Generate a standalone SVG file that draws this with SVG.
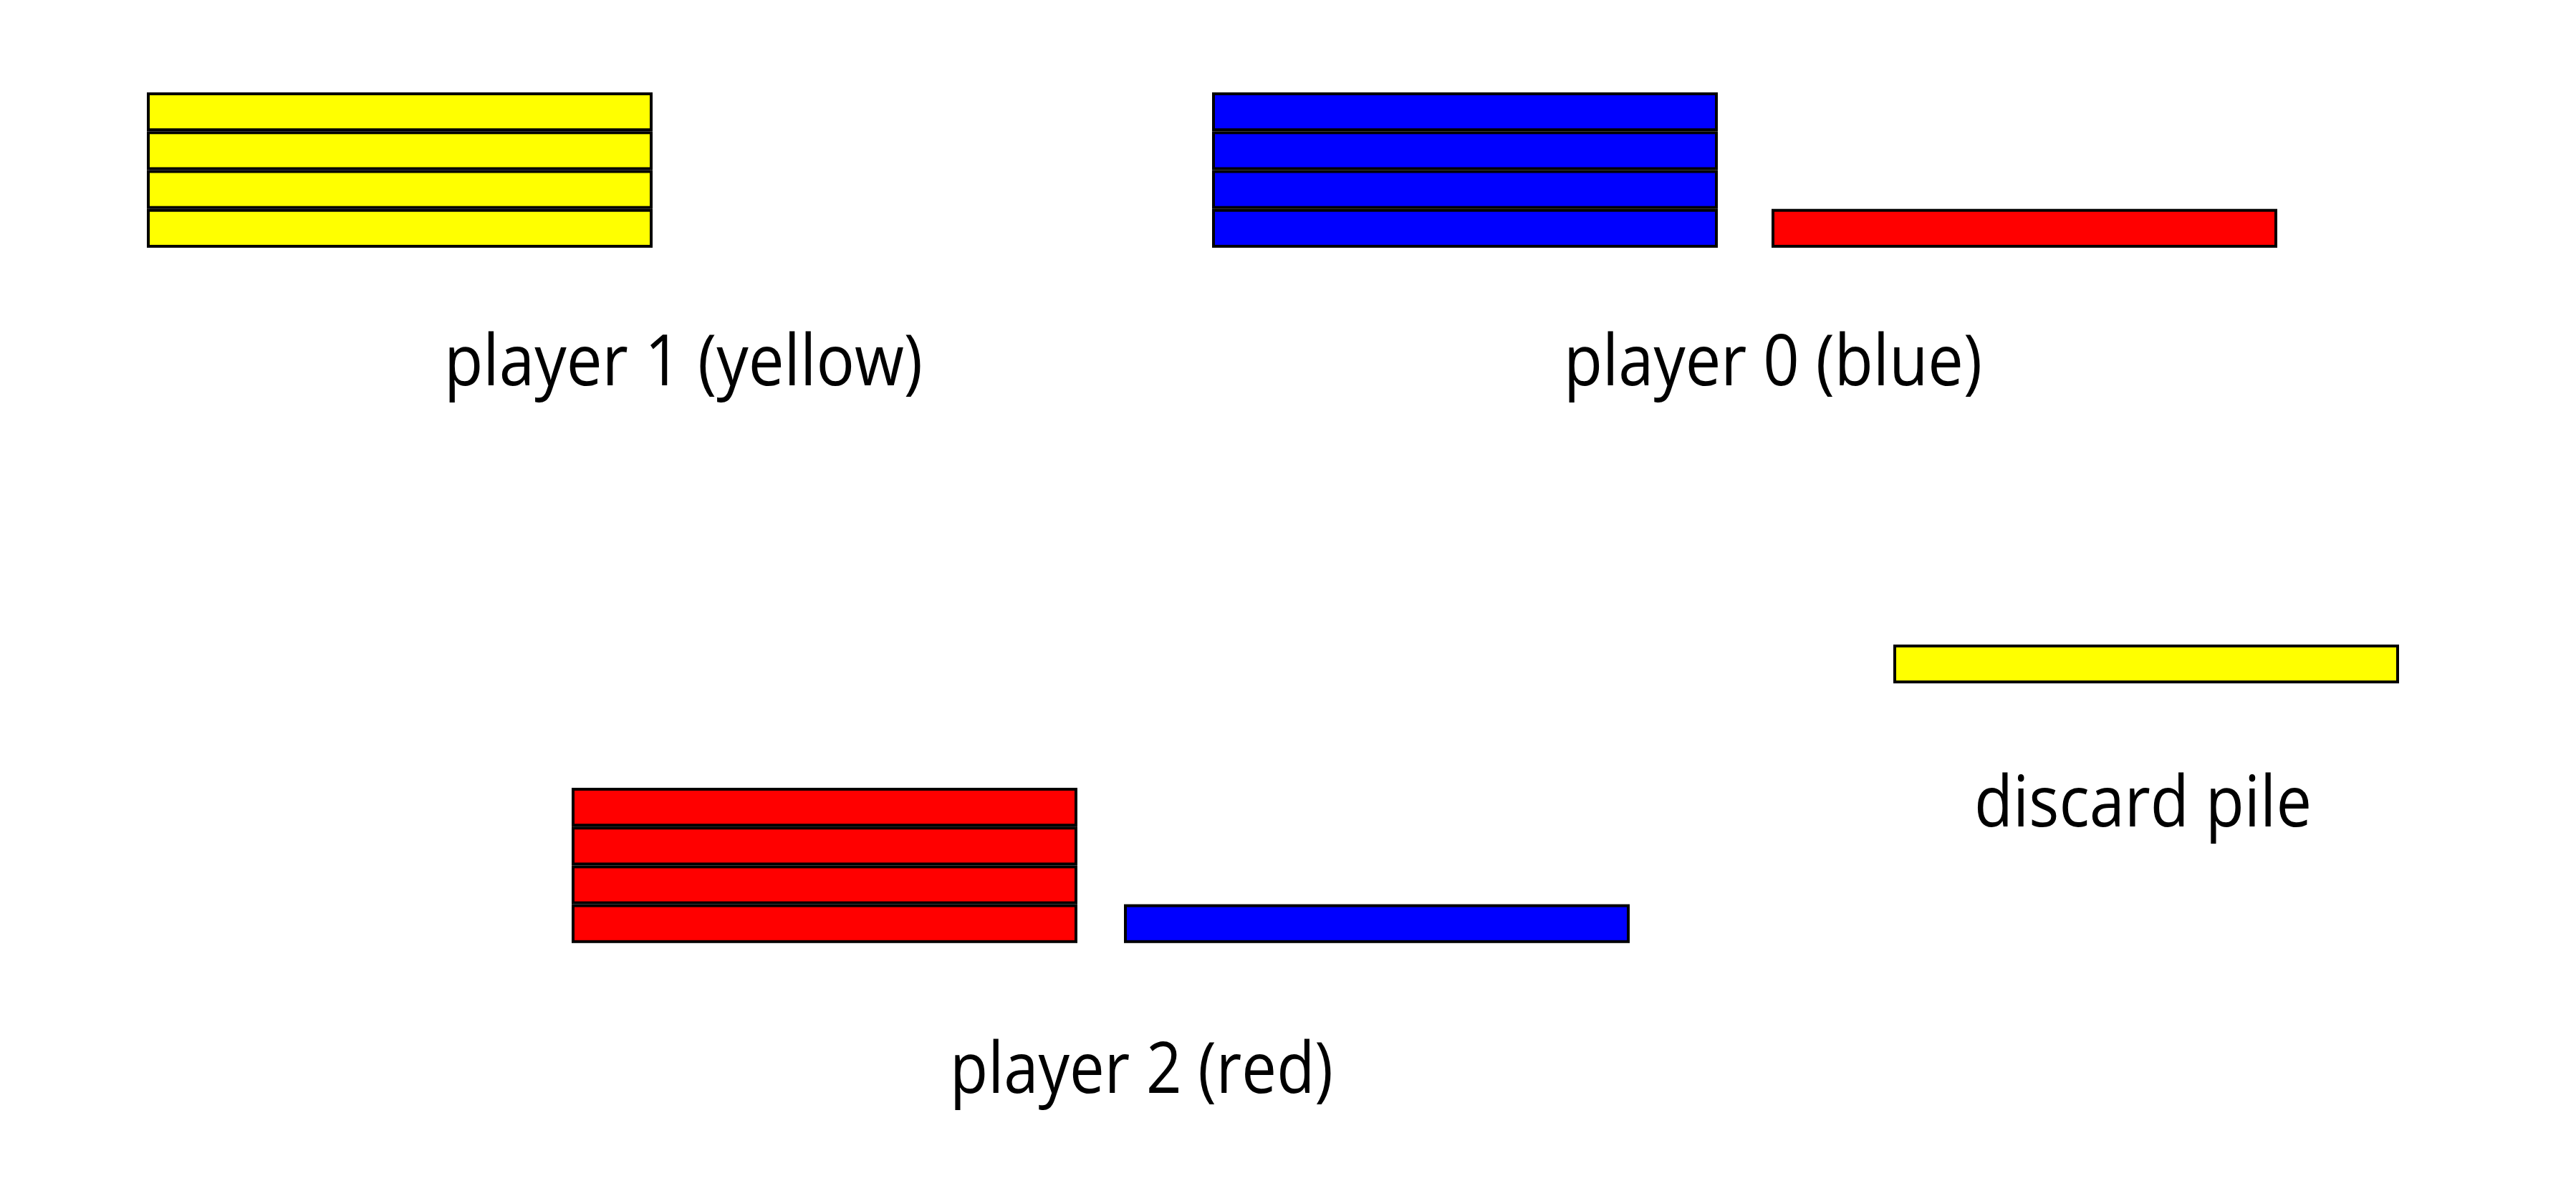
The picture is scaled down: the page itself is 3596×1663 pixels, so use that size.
<svg xmlns="http://www.w3.org/2000/svg" width="3596" height="1663" viewBox="0 0 3596 1663">
<style>
.card{stroke:#000;stroke-width:4}
.y{fill:#FFFF00}
.b{fill:#0000FF}
.r{fill:#FF0000}
.lbl{font-family:"Open Sans","Noto Sans","Liberation Sans",sans-serif;font-size:98px;fill:#000}
</style>
<rect width="3596" height="1663" fill="#fff"/>
<g id="player1">
<rect class="card y" x="207" y="131" width="702" height="50.2"/>
<rect class="card y" x="207" y="185.3" width="702" height="50.2"/>
<rect class="card y" x="207" y="239.5" width="702" height="50.2"/>
<rect class="card y" x="207" y="293.7" width="702" height="50.2"/>
<text class="lbl" x="620" y="538" textLength="668" lengthAdjust="spacingAndGlyphs">player 1 (yellow)</text>
</g>
<g id="player0">
<rect class="card b" x="1694" y="131" width="702" height="50.2"/>
<rect class="card b" x="1694" y="185.3" width="702" height="50.2"/>
<rect class="card b" x="1694" y="239.5" width="702" height="50.2"/>
<rect class="card b" x="1694" y="293.7" width="702" height="50.2"/>
<rect class="card r" x="2475" y="293.7" width="702" height="50.2"/>
<text class="lbl" x="2183" y="538" textLength="584" lengthAdjust="spacingAndGlyphs">player 0 (blue)</text>
</g>
<g id="player2">
<rect class="card r" x="800" y="1102" width="702" height="50.2"/>
<rect class="card r" x="800" y="1156.2" width="702" height="50.2"/>
<rect class="card r" x="800" y="1210.4" width="702" height="50.2"/>
<rect class="card r" x="800" y="1264.6" width="702" height="50.2"/>
<rect class="card b" x="1571" y="1264.6" width="702" height="50.2"/>
<text class="lbl" x="1326" y="1526" textLength="535" lengthAdjust="spacingAndGlyphs">player 2 (red)</text>
</g>
<g id="discard">
<rect class="card y" x="2645" y="902" width="702" height="50.2"/>
<text class="lbl" x="2756" y="1154" textLength="471" lengthAdjust="spacingAndGlyphs">discard pile</text>
</g>
<g id="connectors"/>
</svg>
